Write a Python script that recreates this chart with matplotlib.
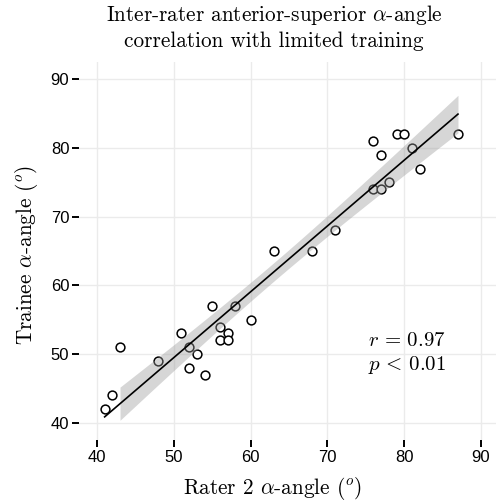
import matplotlib
matplotlib.use("Agg")
import matplotlib.pyplot as plt
import numpy as np

# rater 2 vs trainee alpha-angles
rater2 = [41, 42, 43, 48, 51, 52, 52, 53, 54, 55, 56, 56, 57, 57, 58, 60,
          63, 68, 71, 76, 76, 77, 77, 78, 79, 80, 81, 82, 87]
trainee = [42, 44, 51, 49, 53, 51, 48, 50, 47, 57, 54, 52, 53, 52, 57, 55,
           65, 65, 68, 81, 74, 79, 74, 75, 82, 82, 80, 77, 82]
band_range = [43, 87]  # the grey band is drawn over a shorter x-range than the line
ticks = [40, 50, 60, 70, 80, 90]
stats_text = "$r\\,=\\,0.97$\n$p\\,<\\,0.01$"

plt.rcParams['font.family'] = 'Liberation Sans'
plt.rcParams['mathtext.fontset'] = 'cm'

x = np.array(rater2, dtype=float)
y = np.array(trainee, dtype=float)

# linear fit + 95% confidence band, like geom_smooth(method="lm")
slope, intercept = np.polyfit(x, y, 1)
n = len(x)
resid = y - (slope * x + intercept)
s = np.sqrt(np.sum(resid ** 2) / (n - 2))
t_crit = 2.052  # t(0.975, df=27)
xs = np.linspace(x.min(), x.max(), 100)
ys = slope * xs + intercept
xb = np.linspace(band_range[0], band_range[1], 100)
yb = slope * xb + intercept
se = s * np.sqrt(1.0 / n + (xb - x.mean()) ** 2 / np.sum((x - x.mean()) ** 2))

fig = plt.figure(figsize=(4.96, 5.04), dpi=100)
ax = fig.add_axes([79 / 496, 64 / 504, 417 / 496, 378 / 504])

ax.scatter(x, y, s=40, facecolors='white', edgecolors='black', linewidths=1.1, zorder=2)
ax.fill_between(xb, yb - t_crit * se, yb + t_crit * se, color='#999999', alpha=0.4,
                linewidth=0, zorder=3)
ax.plot(xs, ys, color='black', linewidth=1.2, zorder=4)

ax.set_xlim(37.66, 91.95)
ax.set_ylim(37.5, 92.5)
ax.set_xticks(ticks)
ax.set_yticks(ticks)
ax.grid(True, color='#ebebeb', linewidth=1.0, zorder=0)
ax.set_axisbelow(True)
for sp in ax.spines.values():
    sp.set_visible(False)
ax.tick_params(direction='out', length=5, width=1.4, color='black',
               labelsize=12, pad=2)

ax.text(75.3, 50.0, stats_text, fontsize=15, family='cmr10', va='center', ha='left',
        linespacing=1.25, zorder=5)

fig.text(274 / 496, 1 - 27 / 504,
         "Inter-rater anterior-superior $\\alpha$-angle\ncorrelation with limited training",
         fontsize=15.3, family='cmr10', ha='center', va='center', linespacing=1.35)
fig.text(273 / 496, 1 - 488 / 504, "Rater 2 $\\alpha$-angle ($^o$)",
         fontsize=15.3, family='cmr10', ha='center', va='center')
fig.text(27 / 496, 1 - 255 / 504, "Trainee $\\alpha$-angle ($^o$)",
         fontsize=15.3, family='cmr10', ha='center', va='center', rotation=90)

fig.savefig("out.png", dpi=100)
